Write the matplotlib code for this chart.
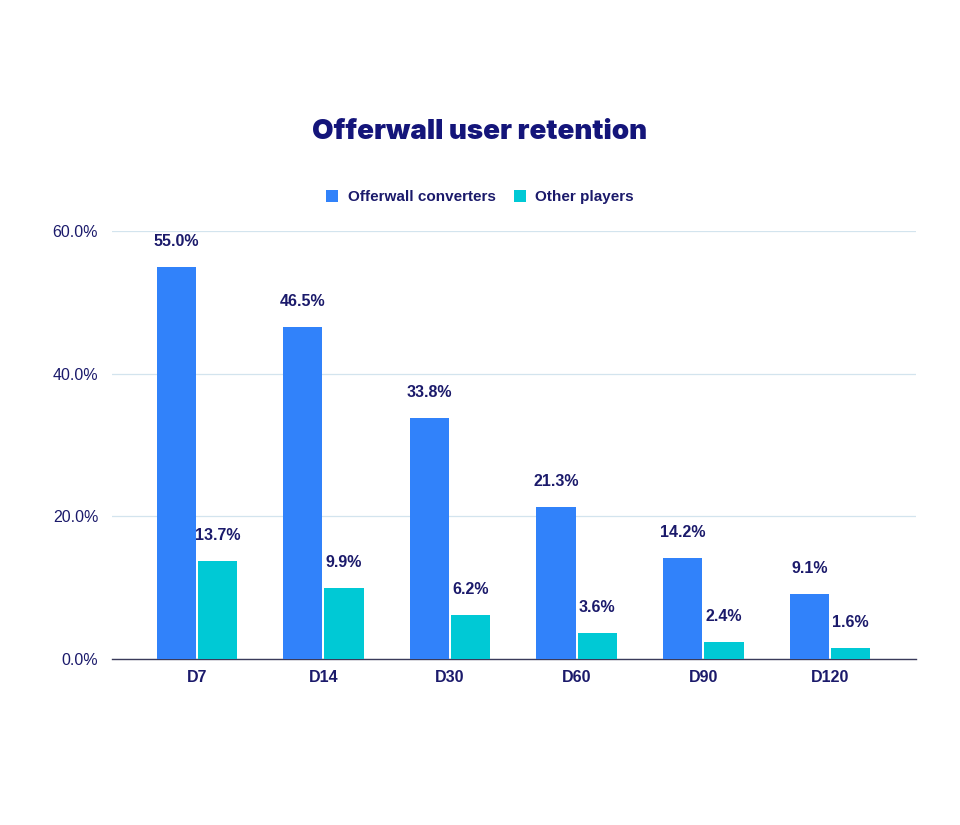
import numpy as np
import matplotlib.pyplot as plt

days = ["D7", "D14", "D30", "D60", "D90", "D120"]
offerwall = [55.0, 46.5, 33.8, 21.3, 14.2, 9.1]
others = [13.7, 9.9, 6.2, 3.6, 2.4, 1.6]

NAVY = "#1b1a6b"
BLUE = "#3182fa"
TEAL = "#00c9d5"

plt.rcParams["font.family"] = ["Liberation Sans", "DejaVu Sans"]

fig = plt.figure(figsize=(9.6, 8.25), dpi=100)
ax = fig.add_axes([0.1167, 0.2012, 0.8375, 0.5188])

x = np.arange(len(days))
w = 0.31
off = 0.163
b1 = ax.bar(x - off, offerwall, w, color=BLUE, label="Offerwall converters", zorder=3)
b2 = ax.bar(x + off, others, w, color=TEAL, label="Other players", zorder=3)

# value labels above each bar
for bars, vals in ((b1, offerwall), (b2, others)):
    for rect, v in zip(bars, vals):
        ax.annotate(f"{v:.1f}%", (rect.get_x() + rect.get_width() / 2, v),
                    xytext=(0, 13), textcoords="offset points",
                    ha="center", va="bottom", fontsize=11.5, fontweight="bold",
                    color=NAVY)

ax.set_ylim(0, 60)
ax.set_xlim(-0.67, len(days) - 1 + 0.68)
ax.set_yticks([0, 20, 40, 60])
ax.set_yticklabels([f"{t:.1f}%" for t in [0, 20, 40, 60]], fontsize=11.5, color=NAVY)
ax.set_xticks(x)
ax.set_xticklabels(days, fontsize=11.5, fontweight="bold", color=NAVY)
ax.tick_params(axis="both", length=0)
ax.tick_params(axis="y", pad=10)
ax.tick_params(axis="x", pad=8)

ax.grid(axis="y", color="#d3e4ee", linewidth=0.9, zorder=0)
for s in ["top", "right", "left"]:
    ax.spines[s].set_visible(False)
ax.spines["bottom"].set_color("#3a3a5a")
ax.spines["bottom"].set_linewidth(1.0)

fig.text(0.5, 0.84, "Offerwall user retention", ha="center", va="center",
         fontsize=20, fontweight="black", color="#14157a",
         family=["Inter", "DejaVu Sans"])

leg = fig.legend(handles=[b1, b2], loc="center", bbox_to_anchor=(0.5, 0.761),
                 ncol=2, frameon=False, handlelength=0.8, handleheight=0.8,
                 handletextpad=0.6, columnspacing=1.2,
                 prop={"size": 11, "weight": "bold"})
for t in leg.get_texts():
    t.set_color(NAVY)

fig.savefig("out.png", dpi=100, facecolor="white")
